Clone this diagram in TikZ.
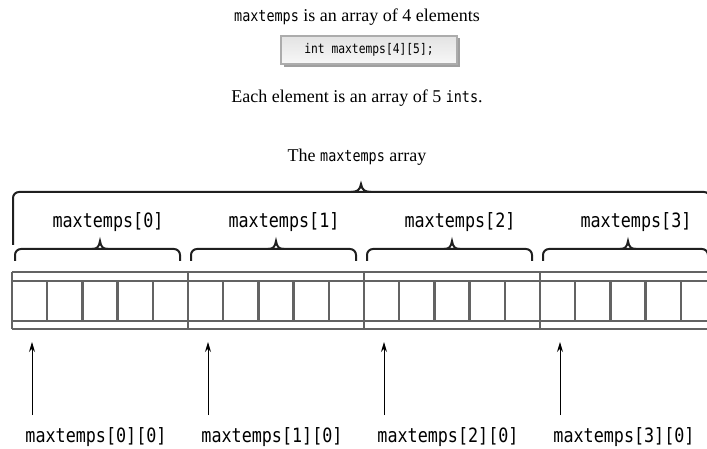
\documentclass[tikz,border=0pt]{standalone}
\usepackage{fontspec}
\setmainfont{Liberation Serif}
\newfontfamily\codefont{DejaVu Sans Mono}[FakeStretch=0.85]
\usetikzlibrary{arrows.meta}
\tikzset{
  arr/.style={draw=gray!78!black, line width=2.3pt},
  brc/.style={draw=black!88, line width=2pt, rounded corners=6pt},
  cusp/.style={draw=black!88, line width=2pt},
  ptr/.style={draw=black, line width=1pt, -{Stealth[length=10pt,width=6pt]}},
  lbl/.style={font=\fontsize{19.7}{22}\codefont, inner sep=0pt},
  txt/.style={font=\fontsize{18}{21}\selectfont, inner sep=0pt},
}
\newcommand{\ic}[1]{{\fontsize{15.8}{18}\codefont #1}}
\begin{document}
\begin{tikzpicture}[x=1pt,y=-1pt]
\useasboundingbox (0,0) rectangle (707,449);
\begin{scope}
\clip (0,0) rectangle (707,449);
% top texts
\node[txt] (t1) at (357,17) {\ic{maxtemps} is an array of 4 elements};
\fill[gray!75] (284,38) rectangle (460,67);
\node[draw=gray!65, line width=1.2pt, top color=gray!22, bottom color=gray!6,
  minimum width=176pt, minimum height=28pt, inner sep=0pt,
  font=\fontsize{13.3}{15}\codefont] (decl) at (369,50) {int maxtemps[4][5];};
\node[txt] (t2) at (357,98) {Each element is an array of 5 \ic{ints}.};
\node[txt] (t3) at (357,157) {The \ic{maxtemps} array};
% big brace
\draw[brc] (13,245) -- (13,192) -- (710,192) -- (710,245);
\draw[cusp] (351,192) .. controls (357,192) and (360,190) .. (361,184)
            .. controls (362,190) and (365,192) .. (371,192);
% array lines
\draw[arr] (12,272) -- (720,272);
\draw[arr] (12,281) -- (720,281);
\draw[arr] (12,321) -- (720,321);
\draw[arr] (12,329) -- (720,329);
\draw[arr] (12,272) -- (12,329);
\foreach \i in {0,...,3} {
  \pgfmathsetmacro{\gx}{12+176*\i}
  \ifnum\i>0 \draw[arr] (\gx,272) -- (\gx,329); \fi
  \foreach \k in {1,...,4} {
    \pgfmathsetmacro{\cx}{\gx+35.2*\k}
    \draw[arr] (\cx,281) -- (\cx,321);
  }
  % small brace
  \pgfmathsetmacro{\ba}{\gx+3}
  \pgfmathsetmacro{\bb}{\gx+168}
  \pgfmathsetmacro{\bt}{\gx+88}
  \draw[brc] (\ba,261) -- (\ba,249) -- (\bb,249) -- (\bb,261);
  \draw[cusp] (\bt-8,249) .. controls (\bt-3,249) and (\bt-1,247) .. (\bt,241)
              .. controls (\bt+1,247) and (\bt+3,249) .. (\bt+8,249);
  \node[lbl] (g\i) at (\gx+96,222) {maxtemps[\i]};
  % pointers
  \coordinate (a\i) at (\gx+20,342);
  \coordinate (b\i) at (\gx+20,415);
  \draw[ptr] (b\i) -- (a\i);
  \node[lbl] (e\i) at (\gx+84,437) {maxtemps[\i][0]};
}
\end{scope}
\end{tikzpicture}
\end{document}
